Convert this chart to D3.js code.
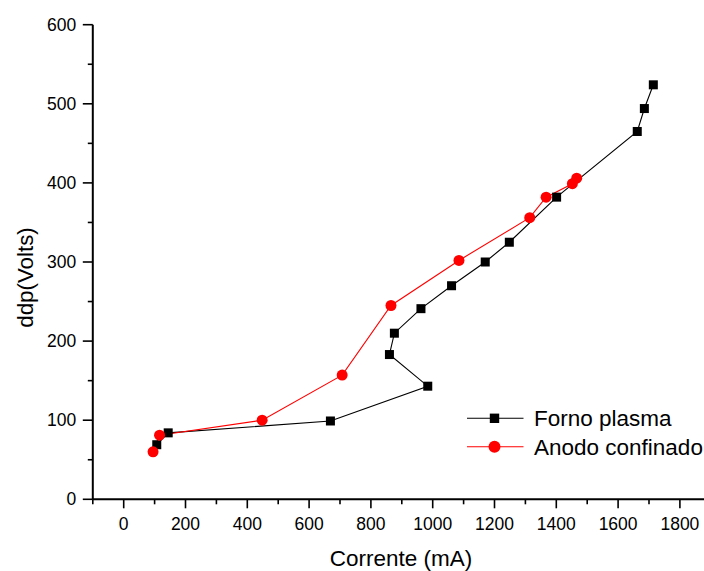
<!DOCTYPE html>
<html>
<head>
<meta charset="utf-8">
<script src="https://cdn.jsdelivr.net/npm/d3@7"></script>
<style>
  html, body { margin: 0; padding: 0; background: #fff; }
  svg { display: block; font-family: "Liberation Sans", Arial, sans-serif; }
</style>
</head>
<body>
<div id="chart"></div>
<script>
const width = 704;
const height = 571;

// Forno plasma (black squares), in acquisition order
const fornoX = [107, 144, 669, 984, 860, 876, 962, 1061, 1170, 1248, 1401, 1662, 1685, 1714];
const fornoY = [69, 84, 99, 143, 183, 210, 241, 270, 300, 325, 382, 465, 494, 524];

// Anodo confinado (red circles)
const anodoX = [95, 116, 448, 707, 865, 1085, 1314, 1367, 1452, 1466];
const anodoY = [60, 81, 100, 157, 245, 302, 356, 382, 399, 406];

const xTicks = [0, 200, 400, 600, 800, 1000, 1200, 1400, 1600, 1800];
const yTicks = [0, 100, 200, 300, 400, 500, 600];
const seriesNames = ["Forno plasma", "Anodo confinado"];

const x = d3.scaleLinear().domain([-100, 1900]).range([92.8, 710.8]);
const y = d3.scaleLinear().domain([0, 600]).range([499.3, 24.7]);

const svg = d3.select("#chart").append("svg")
    .attr("width", width)
    .attr("height", height);

// --- Axes ---
const xMinor = d3.range(-100, 1901, 100).filter(v => !xTicks.includes(v));
const yMinor = d3.range(50, 600, 100);

const xAxis = svg.append("g").attr("transform", `translate(0,${y(0)})`);
xAxis.append("line")
    .attr("x1", x(-100)).attr("x2", width)
    .attr("stroke", "#000").attr("stroke-width", 2);
xAxis.selectAll(".major").data(xTicks).join("line")
    .attr("x1", d => x(d)).attr("x2", d => x(d))
    .attr("y1", 0).attr("y2", 9)
    .attr("stroke", "#000").attr("stroke-width", 1.6);
xAxis.selectAll(".minor").data(xMinor).join("line")
    .attr("x1", d => x(d)).attr("x2", d => x(d))
    .attr("y1", 0).attr("y2", 5)
    .attr("stroke", "#000").attr("stroke-width", 1.6);
xAxis.selectAll("text").data(xTicks).join("text")
    .attr("x", d => x(d))
    .attr("y", 31)
    .attr("text-anchor", "middle")
    .attr("font-size", "17.5px")
    .text(d => d);

const yAxis = svg.append("g").attr("transform", `translate(${x(-100)},0)`);
yAxis.append("line")
    .attr("y1", y(0)).attr("y2", y(600))
    .attr("stroke", "#000").attr("stroke-width", 2);
yAxis.selectAll(".major").data(yTicks).join("line")
    .attr("y1", d => y(d)).attr("y2", d => y(d))
    .attr("x1", -10).attr("x2", 0)
    .attr("stroke", "#000").attr("stroke-width", 1.6);
yAxis.selectAll(".minor").data(yMinor).join("line")
    .attr("y1", d => y(d)).attr("y2", d => y(d))
    .attr("x1", -5).attr("x2", 0)
    .attr("stroke", "#000").attr("stroke-width", 1.6);
yAxis.selectAll("text").data(yTicks).join("text")
    .attr("x", -16.5)
    .attr("y", d => y(d))
    .attr("dy", "0.35em")
    .attr("text-anchor", "end")
    .attr("font-size", "17.5px")
    .text(d => d);

// Axis titles
svg.append("text")
    .attr("x", 401)
    .attr("y", 566)
    .attr("text-anchor", "middle")
    .attr("font-size", "22.5px")
    .text("Corrente (mA)");

svg.append("text")
    .attr("transform", "translate(33,277.5) rotate(-90)")
    .attr("text-anchor", "middle")
    .attr("font-size", "22.3px")
    .text("ddp(Volts)");

// --- Series ---
const forno = fornoX.map((v, i) => [v, fornoY[i]]);
const anodo = anodoX.map((v, i) => [v, anodoY[i]]);
const line = d3.line().x(d => x(d[0])).y(d => y(d[1]));

svg.append("path")
    .attr("d", line(forno))
    .attr("fill", "none")
    .attr("stroke", "#000")
    .attr("stroke-width", 1.1);

svg.append("path")
    .attr("d", line(anodo))
    .attr("fill", "none")
    .attr("stroke", "#ff0000")
    .attr("stroke-width", 1.1);

const sq = 9;
svg.append("g").selectAll("rect").data(forno).join("rect")
    .attr("x", d => x(d[0]) - sq / 2)
    .attr("y", d => y(d[1]) - sq / 2)
    .attr("width", sq).attr("height", sq)
    .attr("fill", "#000");

svg.append("g").selectAll("circle").data(anodo).join("circle")
    .attr("cx", d => x(d[0]))
    .attr("cy", d => y(d[1]))
    .attr("r", 5.5)
    .attr("fill", "#ff0000");

// --- Legend ---
const legend = svg.append("g");
const rows = [
    { name: seriesNames[0], color: "#000", shape: "square", yPos: 418.3 },
    { name: seriesNames[1], color: "#ff0000", shape: "circle", yPos: 446.7 },
];
rows.forEach(r => {
    legend.append("line")
        .attr("x1", 467).attr("x2", 523.5)
        .attr("y1", r.yPos).attr("y2", r.yPos)
        .attr("stroke", r.color).attr("stroke-width", 1.1);
    if (r.shape === "square") {
        legend.append("rect")
            .attr("x", 494.5 - 4.7).attr("y", r.yPos - 4.7)
            .attr("width", 9.4).attr("height", 9.4)
            .attr("fill", r.color);
    } else {
        legend.append("circle")
            .attr("cx", 494.5).attr("cy", r.yPos)
            .attr("r", 6)
            .attr("fill", r.color);
    }
    legend.append("text")
        .attr("x", 534)
        .attr("y", r.yPos)
        .attr("dy", "0.36em")
        .attr("font-size", "22.5px")
        .text(r.name);
});
</script>
</body>
</html>
